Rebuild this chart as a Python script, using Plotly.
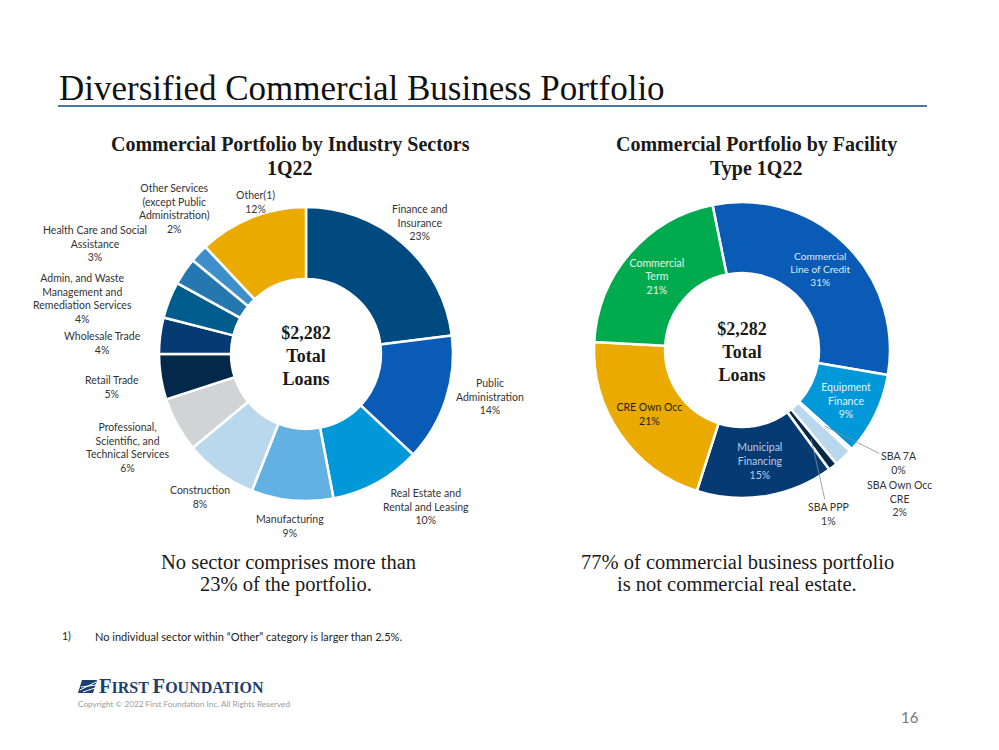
import math
import plotly.graph_objects as go

W, H = 991, 742   # page body has an 8px margin in the browser window
OFF = 8

# ---------------- data ----------------
industry_labels = [
    "Finance and<br>Insurance", "Public<br>Administration",
    "Real Estate and<br>Rental and Leasing", "Manufacturing", "Construction",
    "Professional,<br>Scientific, and<br>Technical Services", "Retail Trade",
    "Wholesale Trade", "Admin, and Waste<br>Management and<br>Remediation Services",
    "Health Care and Social<br>Assistance",
    "Other Services<br>(except Public<br>Administration)", "Other(1)",
]
industry_pct = [23, 14, 10, 9, 8, 6, 5, 4, 4, 3, 2, 12]

facility_labels = ["Commercial<br>Line of Credit", "Equipment<br>Finance", "SBA 7A",
                   "SBA Own Occ<br>CRE", "SBA PPP", "Municipal<br>Financing",
                   "CRE Own Occ", "Commercial<br>Term"]
facility_pct = [31, 9, 0.3, 2, 1, 15, 21, 21]

total_text = "<b>$2,282<br>Total<br>Loans</b>"

# ---------------- styles ----------------
industry_colors = ["#004A7F", "#0A5BB5", "#0098D9", "#63B0E2", "#B9D8EE", "#D1D3D4",
                   "#03284A", "#063A72", "#005C8C", "#2577B0", "#3D8FCB", "#EAAA00"]
# small label nudges (px) to mimic the hand-placed labels of the original
industry_label_nudge = [(-7, -1), (2, -11), (23, 0), (2, 5), (3, 7), (-1, 6), (-10, 7),
                        (-11, 10), (-31, 11), (-35, -12), (10, -22), (14, 4)]

facility_colors = ["#0A5BB5", "#0098D9", "#C9CACB", "#B9D8EE", "#03284A", "#063A72",
                   "#EAAA00", "#00AB4E"]
facility_inside = [True, True, False, False, False, True, True, True]
facility_textcolor = ["#DCE9F7", "#E3F2FB", "#333333", "#333333", "#333333", "#B8CDE6",
                      "#1E1E1E", "#E6F5EA"]
# callout offsets (px) for the tiny slices: (dx, dy) from slice to label
facility_callout = {2: (74, 37), 3: (80, 67), 4: (17, 75)}

SANS = "Lato, 'Open Sans', sans-serif"
SERIF = "'Liberation Serif', 'DejaVu Serif', serif"
LABEL_SIZE = 10.5

L_CX, L_CY, L_R = 306, 354, 147
R_CX, R_CY, R_R = 742, 350, 148
R_ROT = -11.5


def px(x, y):
    return (x - OFF) / W, 1 - (y - OFF) / H


def domain(cx, cy, r):
    return dict(x=[(cx - r - OFF) / W, (cx + r - OFF) / W],
                y=[1 - (cy + r - OFF) / H, 1 - (cy - r - OFF) / H])


def mid_angles(values, rotation=0.0):
    tot = sum(values)
    out, acc = [], 0.0
    for v in values:
        out.append(math.radians(rotation + (acc + v / 2) / tot * 360))
        acc += v
    return out


fig = go.Figure()

fig.add_trace(go.Pie(
    labels=industry_labels, values=industry_pct, sort=False, direction="clockwise",
    rotation=0, hole=0.51, domain=domain(L_CX, L_CY, L_R),
    marker=dict(colors=industry_colors, line=dict(color="white", width=2.5)),
    textinfo="none",
    title=dict(text=total_text, position="middle center",
               font=dict(family=SERIF, size=18, color="#1a1a1a")),
    showlegend=False, hoverinfo="label+percent",
))

fig.add_trace(go.Pie(
    labels=facility_labels, values=facility_pct, sort=False, direction="clockwise",
    rotation=R_ROT, hole=0.52, domain=domain(R_CX, R_CY, R_R),
    marker=dict(colors=facility_colors, line=dict(color="white", width=2.5)),
    texttemplate=[("%{label}<br>%{percent:.0%}" if ins else "") for ins in facility_inside],
    textposition="inside",
    insidetextorientation="horizontal",
    insidetextfont=dict(family=SANS, size=LABEL_SIZE, color=facility_textcolor),
    title=dict(text=total_text, position="middle center",
               font=dict(family=SERIF, size=18, color="#1a1a1a")),
    showlegend=False, hoverinfo="label+percent",
))

ann = []


def txt(x, y, text, size, family, color="#111111", xanchor="center", yanchor="middle", align="center"):
    ax_, ay_ = px(x, y)
    ann.append(dict(x=ax_, y=ay_, xref="paper", yref="paper", text=text,
                    showarrow=False, xanchor=xanchor, yanchor=yanchor, align=align,
                    font=dict(size=size, family=family, color=color)))


# ---- left donut outside labels (placed from slice mid-angles) ----
for lab, val, th, (nx, ny) in zip(industry_labels, industry_pct,
                                  mid_angles(industry_pct), industry_label_nudge):
    lines = lab.split("<br>")
    w = max(len(s) for s in lines) * 5.2
    h = (len(lines) + 1) * 13
    s, c = math.sin(th), math.cos(th)
    gx = L_CX + (L_R + 8) * s
    gy = L_CY - (L_R + 8) * c
    cx = gx + w / 2 * s + nx
    cy = gy - h / 2 * c + ny
    txt(cx, cy, f"{lab}<br>{val}%", LABEL_SIZE, SANS, "#333333")

# ---- right donut callouts for tiny slices ----
tot_f = sum(facility_pct)
for i, th in enumerate(mid_angles(facility_pct, R_ROT)):
    if i not in facility_callout:
        continue
    dx, dy = facility_callout[i]
    r_mid = R_R * 0.76
    x0 = R_CX + r_mid * math.sin(th)
    y0 = R_CY - r_mid * math.cos(th)
    hx, hy = px(x0, y0)
    pct = round(facility_pct[i] / tot_f * 100)
    ann.append(dict(x=hx, y=hy, xref="paper", yref="paper",
                    text=f"{facility_labels[i]}<br>{pct}%", showarrow=True,
                    arrowhead=0, arrowwidth=0.8, arrowcolor="#8C8C8C",
                    ax=dx, ay=dy, standoff=0,
                    font=dict(size=LABEL_SIZE, family=SANS, color="#333333")))

# ---- page texts ----
txt(57, 89, "Diversified Commercial Business Portfolio", 35, SERIF, "#111111", xanchor="left")
txt(290, 145, "<b>Commercial Portfolio by Industry Sectors</b>", 20, SERIF, "#1a1a1a")
txt(290, 168, "<b>1Q22</b>", 20, SERIF, "#1a1a1a")
txt(756, 145, "<b>Commercial Portfolio by Facility</b>", 20, SERIF, "#1a1a1a")
txt(756, 168, "<b>Type 1Q22</b>", 20, SERIF, "#1a1a1a")
txt(288, 562, "No sector comprises more than", 20.5, SERIF, "#1a1a1a")
txt(286, 584, "23% of the portfolio.", 20.5, SERIF, "#1a1a1a")
txt(737, 562, "77% of commercial business portfolio", 20.5, SERIF, "#1a1a1a")
txt(737, 584, "is not commercial real estate.", 20.5, SERIF, "#1a1a1a")
txt(60, 636, "1)", 10.5, SANS, "#222222", xanchor="left")
txt(93, 636, "No individual sector within \u201cOther\u201d category is larger than 2.5%.",
    11, SANS, "#222222", xanchor="left")
txt(97, 686, "<b><span style='font-size:20.5px'>F</span>IRST <span style='font-size:20.5px'>F</span>OUNDATION</b>",
    16, SERIF, "#1D3F6E", xanchor="left")
txt(76, 704, "Copyright \u00a9 2022 First Foundation Inc. All Rights Reserved", 8.2, SANS, "#9A9A9A", xanchor="left")
txt(910, 717, "16", 15, SANS, "#7A7A7A")

# ---- shapes ----
def path(points):
    s = ""
    for k, (x, y) in enumerate(points):
        X, Y = px(x, y)
        s += ("M " if k == 0 else " L ") + f"{X},{Y}"
    return s + " Z"


x0, y0 = px(58, 106)
x1, _ = px(927, 106)
shapes = [
    dict(type="line", xref="paper", yref="paper", x0=x0, x1=x1, y0=y0, y1=y0,
         line=dict(color="#4C7A9E", width=2)),
    dict(type="path", xref="paper", yref="paper",
         path=path([(78, 693), (82, 680), (97, 680), (93, 693)]),
         fillcolor="#1D3F6E", line=dict(width=0)),
]
for (a, b) in [((80, 690), (96, 682)), ((81, 687), (96, 685)), ((83, 692), (95, 688))]:
    ax0, ay0 = px(*a)
    ax1, ay1 = px(*b)
    shapes.append(dict(type="line", xref="paper", yref="paper", x0=ax0, y0=ay0, x1=ax1, y1=ay1,
                       line=dict(color="white", width=1)))

fig.update_layout(
    width=W, height=H, margin=dict(l=0, r=0, t=0, b=0),
    paper_bgcolor="white", plot_bgcolor="white",
    annotations=ann, shapes=shapes,
)

fig.write_html("out.html")
